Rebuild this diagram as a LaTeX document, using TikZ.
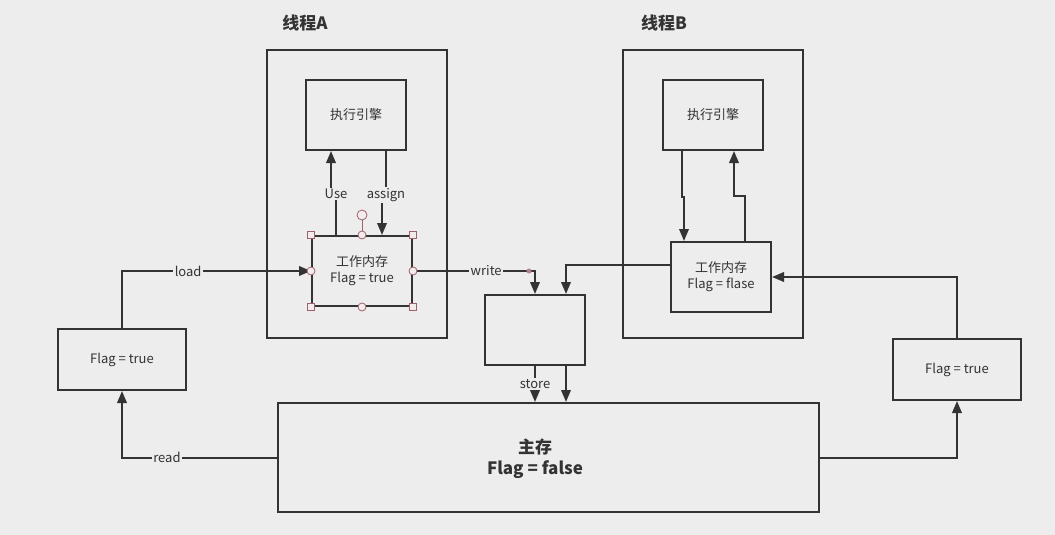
\documentclass[tikz,border=0pt]{standalone}
\usepackage{fontspec}
\setmainfont{Noto Sans CJK SC}
\usepackage{tikz}
\usetikzlibrary{positioning}
\usetikzlibrary{arrows.meta}

\definecolor{bgGray}{HTML}{EDEDED}
\definecolor{lineGray}{HTML}{333333}
\definecolor{handleRed}{HTML}{A0606A}
\definecolor{handleFill}{HTML}{F3ECEC}

\tikzset{
	box/.style={draw=lineGray, line width=2pt, inner sep=0pt, align=center,
		text=lineGray, font=\fontsize{13}{16}\selectfont},
	flow/.style={draw=lineGray, line width=2pt, -{Triangle[length=12pt,width=9.5pt]}},
	lbl/.style={fill=bgGray, inner sep=1.5pt, text=lineGray, font=\fontsize{13}{15}\selectfont},
	handlesq/.style={draw=handleRed, fill=handleFill, line width=0.8pt, minimum size=7pt, inner sep=0pt},
	handlecirc/.style={circle, draw=handleRed, fill=handleFill, line width=0.8pt, minimum size=8pt, inner sep=0pt},
}

\begin{document}
\begin{tikzpicture}[x=1pt, y=-1pt]
	
	% ------------------------------------------------
	% Ensure the dimensions of graphic are appropriate
	\useasboundingbox (0,0) rectangle (1055,535);
	\fill[bgGray] (0,0) rectangle (1055,535);
	
	% ------------------------------------------------
	% Threads
	\node[box, minimum width=180, minimum height=288] (ThreadA) at (357,194) {};
	\node[box, minimum width=180, minimum height=288] (ThreadB) at (713,194) {};
	
	\node[text=lineGray, font=\fontsize{17}{20}\selectfont\bfseries] (TitleA) at (305,23) {线程A};
	\node[text=lineGray, font=\fontsize{17}{20}\selectfont\bfseries] (TitleB) at (664,23) {线程B};
	
	% ----------------
	% Boxes
	\node[box, minimum width=100, minimum height=70] (EngineA) at (356,115) {执行引擎};
	\node[box, minimum width=100, minimum height=70] (EngineB) at (713,115) {执行引擎};
	
	\node[box, minimum width=100, minimum height=70] (WorkA) at (362,271) {工作内存\\Flag = true};
	\node[box, minimum width=100, minimum height=70] (WorkB) at (721,277) {工作内存\\Flag = flase};
	
	\node[box, minimum width=100, minimum height=70] (Mid) at (535,330) {};
	
	\node[box, minimum width=541, minimum height=109] (Main) at (548.5,457.5) {};
	\node[text=lineGray, align=center, font=\fontsize{17}{21}\selectfont\bfseries] (MainText) at (535,459) {主存\\Flag = false};
	
	\node[box, minimum width=128, minimum height=61] (LeftFlag) at (122,359.5) {Flag = true};
	\node[box, minimum width=128, minimum height=61] (RightFlag) at (957,369.5) {Flag = true};
	
	% ----------------
	% Relevant coordinates
	\path (WorkA.north)   +(-26,0) coordinate (UseBeg);
	\path (EngineA.south) +(-25,0) coordinate (UseEnd);
	\path (EngineA.south) +(30,0)  coordinate (AssignBeg);
	\path (WorkA.north)   +(20,0)  coordinate (AssignEnd);
	
	\path (EngineB.south) +(-31,0) coordinate (DownBeg);
	\path (WorkB.north)   +(-37,0) coordinate (DownEnd);
	\path (WorkB.north)   +(24,0)  coordinate (UpBeg);
	\path (EngineB.south) +(21,0)  coordinate (UpEnd);
	
	\path (WorkB.west)    +(0,-12) coordinate (BackBeg);
	\path (Mid.north)     +(31,0)  coordinate (BackEnd);
	\path (Mid.south)     +(31,0)  coordinate (FlushBeg);
	\path (Main.north -| Mid.south) coordinate (StoreEnd);
	
	\path (WorkA.east -| Mid.north) +(-6,0) coordinate (WriteDot);
	
	%%%%%%%%%%%%%%%%%%%%%%%%%%%%%%%%%%%%%%%%%
	% Connectors
	\draw[flow] (UseBeg) -- ++(0,-41) node[lbl] {Use} -- ++(-5,0) -- (UseEnd);
	\draw[flow] (AssignBeg) -- ++(0,44) node[lbl] {assign} -- ++(-4,0) -- (AssignEnd);
	
	\draw[flow] (DownBeg) -- ++(0,46) -- ++(2,0) -- (DownEnd);
	\draw[flow] (UpBeg) -- ++(0,-45) -- ++(-11,0) -- (UpEnd);
	
	\draw[flow] (LeftFlag.north) |- node[lbl, pos=0.675] {load} (WorkA.west);
	\draw[flow] (Main.west) -| node[lbl, pos=0.355] {read} (LeftFlag.south);
	
	\draw[flow] (WorkA.east) -| node[lbl, pos=0.30] {write} (Mid.north);
	\draw[flow] (BackBeg) -| (BackEnd);
	
	\draw[flow] (Mid.south) -- node[lbl] {store} (StoreEnd);
	\draw[flow] (FlushBeg) -- (FlushBeg |- Main.north);
	
	\draw[flow] (RightFlag.north) |- (WorkB.east);
	\draw[flow] (Main.east) -| (RightFlag.south);
	
	% ----------------
	% Selection handles
	\fill[handleRed!80] (WriteDot) circle (2.5pt);
	
	\node[handlecirc, minimum size=10pt] (RotA) at ([yshift=20pt]WorkA.north) {};
	\draw[handleRed, line width=0.8pt] (RotA) -- (WorkA.north);
	
	\foreach \anc in {north west, north east, south west, south east}
		\node[handlesq] at (WorkA.\anc) {};
	\foreach \anc in {north, south, west, east}
		\node[handlecirc] at (WorkA.\anc) {};
	
\end{tikzpicture}
\end{document}
